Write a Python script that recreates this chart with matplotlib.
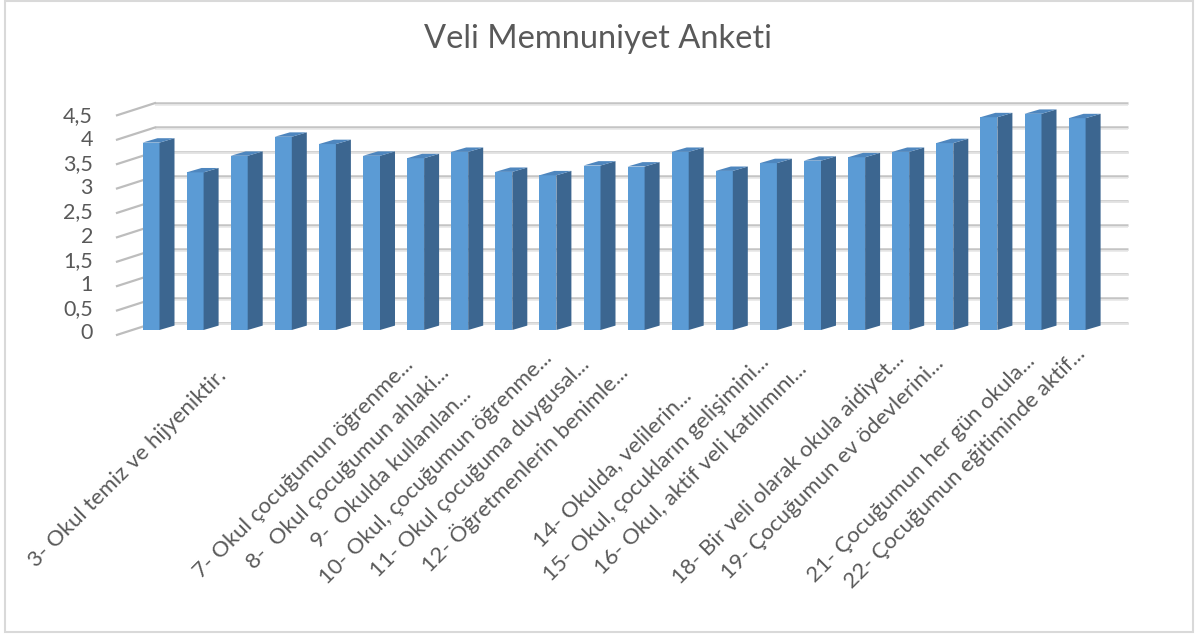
# encoding = utf-8
# Veli Memnuniyet Anketi - Excel style 3D column chart

import numpy as np
import matplotlib
matplotlib.use("Agg")
import matplotlib.pyplot as plt
from matplotlib.patches import Polygon, Rectangle

# soru etiketleri (gizlenen etiketler bos)
labels = ["", "", "3- Okul temiz ve hijyeniktir.", "", "", "",
          "7- Okul çocuğumun öğrenme...", "8-  Okul çocuğumun ahlaki...",
          "9-  Okulda kullanılan...", "10- Okul, çocuğumun öğrenme...",
          "11- Okul çocuğuma duygusal...", "12- Öğretmenlerin benimle...", "",
          "14- Okulda, velilerin...", "15- Okul, çocukların gelişimini...",
          "16- Okul, aktif veli katılımını...", "",
          "18- Bir veli olarak okula aidiyet...", "19- Çocuğumun ev ödevlerini...", "",
          "21- Çocuğumun her gün okula...", "22- Çocuğumun eğitiminde aktif..."]
values = [3.84, 3.23, 3.57, 3.96, 3.81, 3.57, 3.52, 3.65, 3.24, 3.17, 3.37,
          3.35, 3.65, 3.26, 3.42, 3.47, 3.54, 3.65, 3.83, 4.36, 4.43, 4.34]
yticks = [0, 0.5, 1, 1.5, 2, 2.5, 3, 3.5, 4, 4.5]
ytick_labels = ["0", "0,5", "1", "1,5", "2", "2,5", "3", "3,5", "4", "4,5"]

W, H = 1195, 634
PX_X, PX_Y = 44.1, 48.8      # piksel / birim
X0_PX, Y0_PX = 151, 330      # ilk cubugun orta noktasi, taban

FRONT = "#5B9BD5"
SIDE = "#3C6690"
TOP = "#4E86BE"
GRID = "#C4C4C4"
TEXT = "#595959"


def main():
    plt.rcParams["font.family"] = ["Lato", "DejaVu Sans"]
    fig = plt.figure(figsize=(W / 100, H / 100), dpi=100)
    fig.patch.set_facecolor("white")

    xlim = (-1.5, 22.5)
    ylim = (-0.2, 4.8)
    left = (X0_PX + xlim[0] * PX_X) / W
    right = (X0_PX + xlim[1] * PX_X) / W
    bottom = 1 - (Y0_PX - ylim[0] * PX_Y) / H
    top = 1 - (Y0_PX - ylim[1] * PX_Y) / H
    ax = fig.add_axes([left, bottom, right - left, top - bottom])
    ax.set_xlim(*xlim)
    ax.set_ylim(*ylim)
    ax.axis("off")

    x = np.arange(len(values))
    w = 17 / PX_X            # on yuz genisligi
    dx = 15 / PX_X           # derinlik
    dy = 4.4 / PX_Y

    # arka duvar izgara cizgileri ve capraz tikler
    gx0 = (155 - X0_PX) / PX_X
    gx1 = (1128 - X0_PX) / PX_X
    fx = (117 - X0_PX) / PX_X
    for v, lab in zip(yticks, ytick_labels):
        yb = v + 0.15
        ax.plot([gx0, gx1], [yb, yb], color=GRID, lw=1.8, solid_capstyle="butt", zorder=1)
        ax.plot([gx0, gx1], [yb - 1.6 / PX_Y] * 2, color="#E8E8E8", lw=1.2,
                solid_capstyle="butt", zorder=1)
        ax.plot([fx, gx0], [v - 0.1, yb], color="#BDBDBD", lw=1.6, zorder=1)
        ax.text((93 - X0_PX) / PX_X, (v * 48.2 - 3) / PX_Y, lab, ha="right",
                va="center", fontsize=15.5, color=TEXT)

    # cubuklar: on yuz, yan yuz, ust yuz
    ax.bar(x, values, width=w, color=FRONT, linewidth=0, zorder=3)
    for xi, v in zip(x, values):
        xr = xi + w / 2
        xl = xi - w / 2
        ax.add_patch(Polygon([(xr, 0), (xr + dx, dy), (xr + dx, v + dy), (xr, v)],
                             closed=True, facecolor=SIDE, edgecolor="none", zorder=3))
        ax.add_patch(Polygon([(xl, v), (xl + dx, v + dy), (xr + dx, v + dy), (xr, v)],
                             closed=True, facecolor=TOP, edgecolor="none", zorder=3))

    # kategori etiketleri (45 derece, ortalanmis)
    for xi, lab in zip(x, labels):
        if not lab:
            continue
        ax.text(xi - 112 / PX_X, (Y0_PX - 468) / PX_Y, lab, rotation=45,
                rotation_mode="anchor", ha="center", va="center",
                fontsize=16, color=TEXT, clip_on=False)

    fig.text(598 / W, 1 - 48 / H, "Veli Memnuniyet Anketi", ha="center",
             va="baseline", fontsize=23.5, color=TEXT)

    fig.patches.append(Rectangle((5 / W, 2 / H), 1188 / W, 631 / H,
                                 transform=fig.transFigure, fill=False,
                                 edgecolor="#D9D9D9", lw=1.5))

    fig.savefig("out.png", dpi=100)


if __name__ == '__main__':
    main()
